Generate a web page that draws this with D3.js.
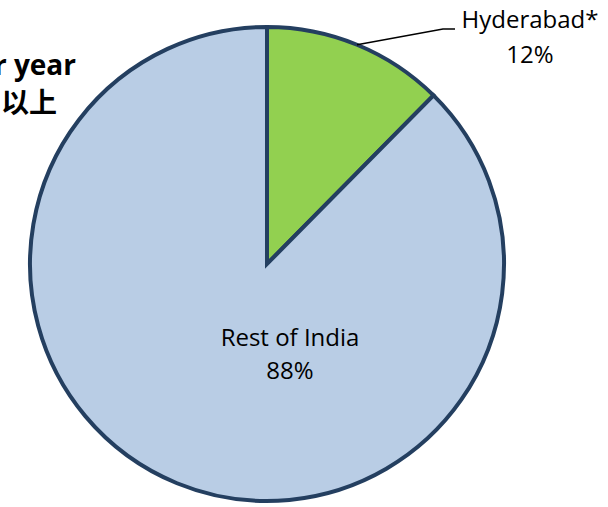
<!DOCTYPE html>
<html>
<head>
<meta charset="utf-8">
<script src="https://cdn.jsdelivr.net/npm/d3@7"></script>
<style>
  body { margin: 0; background: #fff; }
  text { font-family: "Open Sans", "Noto Sans CJK SC", sans-serif; }
</style>
</head>
<body>
<svg id="pie-chart" width="608" height="507"></svg>
<script>
// slice data
var categories = ["Hyderabad*", "Rest of India"];
var shares = [12.4, 87.6];
var shareLabels = ["12%", "88%"];
var colors = ["#92D050", "#B9CDE5"];
// title lines (cut off at left edge in original)
var titleLines = ["r year", "以上"];

var cx = 267, cy = 264, radius = 237;

var canvas = d3.select('body').select('#pie-chart');

var data = categories.map(function(c, i){
    return { name: c, value: shares[i], label: shareLabels[i], color: colors[i] };
});

var pie = d3.pie().sort(null).value(function(d){ return d.value; });
var arc = d3.arc().innerRadius(0).outerRadius(radius);
var arcs = pie(data);

var g = canvas.append('g').attr('transform', 'translate(' + cx + ',' + cy + ')');

g.selectAll('path')
    .data(arcs)
    .enter().append('path')
    .attr('d', arc)
    .style('fill', function(d){ return d.data.color; })
    .style('stroke', '#243F60')
    .style('stroke-width', 4)
    .style('stroke-linejoin', 'miter');

// Hyderabad label with leader line
var h = arcs[0];
var mid = (h.startAngle + h.endAngle) / 2;
var p0 = [Math.sin(mid) * radius, -Math.cos(mid) * radius];
g.append('polyline')
    .attr('points', [p0, [176, -235], [188, -235]].map(function(p){ return p.join(','); }).join(' '))
    .style('fill', 'none')
    .style('stroke', '#000')
    .style('stroke-width', 1.5);

var hl = g.append('text')
    .attr('text-anchor', 'middle')
    .style('font-size', '24px')
    .style('fill', '#000');
hl.append('tspan').attr('x', 263).attr('y', -236).text(h.data.name);
hl.append('tspan').attr('x', 263).attr('y', -201).text(h.data.label);

// Rest of India label inside
var r = arcs[1];
var rl = g.append('text')
    .attr('text-anchor', 'middle')
    .style('font-size', '24px')
    .style('fill', '#000');
rl.append('tspan').attr('x', 23).attr('y', 82).text(r.data.name);
rl.append('tspan').attr('x', 23).attr('y', 115).text(r.data.label);

// title fragment
var t = canvas.append('text')
    .attr('text-anchor', 'end')
    .style('font-size', '28px')
    .style('font-weight', 'bold')
    .style('fill', '#000');
t.append('tspan').attr('x', 76).attr('y', 75).text(titleLines[0]);
t.append('tspan').attr('x', 57).attr('y', 113).text(titleLines[1]);
</script>
</body>
</html>
